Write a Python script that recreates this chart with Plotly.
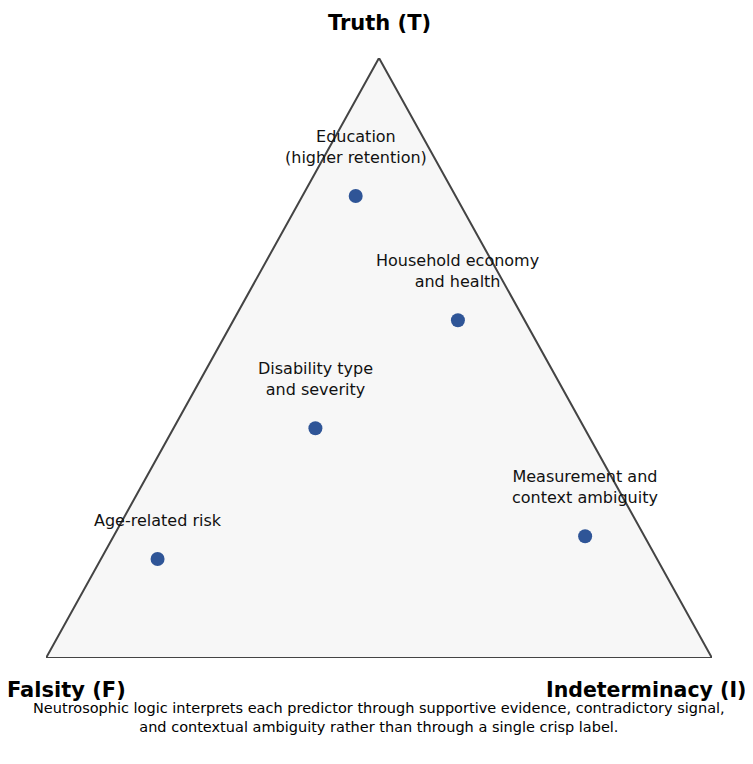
import plotly.graph_objects as go

# Ternary data: (Truth, Indeterminacy, Falsity)
labels = ["Education<br>(higher retention)", "Household economy<br>and health",
          "Disability type<br>and severity", "Measurement and<br>context ambiguity",
          "Age-related risk"]
truth = [0.77, 0.563, 0.383, 0.203, 0.165]
indet = [0.08, 0.337, 0.213, 0.708, 0.085]
falsity = [0.15, 0.10, 0.404, 0.089, 0.75]

axis_titles = ["Truth (T)", "Falsity (F)", "Indeterminacy (I)"]
caption = ("Neutrosophic logic interprets each predictor through supportive evidence, contradictory signal,"
           "<br>and contextual ambiguity rather than through a single crisp label.")

# barycentric -> cartesian (F vertex at (0,0), I vertex at (1,0), T vertex at (0.5,1))
xs = [i + t / 2 for t, i in zip(truth, indet)]
ys = list(truth)

FONT = "DejaVu Sans"
fig = go.Figure()
fig.add_trace(go.Scatter(
    x=xs, y=ys, mode="markers",
    marker=dict(size=14, color="#2F5597"),
    hoverinfo="skip", showlegend=False,
    cliponaxis=False,
))

annotations = []
for x, y, lab in zip(xs, ys, labels):
    annotations.append(dict(x=x, y=y, xref="x", yref="y", text=lab, showarrow=False,
                            yanchor="bottom", yshift=27,
                            font=dict(family=FONT, size=16, color="#111")))
annotations += [
    dict(x=0.5, y=1, xref="x", yref="y", text="<b>" + axis_titles[0] + "</b>", showarrow=False,
         yanchor="bottom", yshift=21, font=dict(family=FONT, size=21, color="#000")),
    dict(x=0, y=0, xref="x", yref="y", text="<b>" + axis_titles[1] + "</b>", showarrow=False,
         yanchor="top", yshift=-18, xshift=20, font=dict(family=FONT, size=21, color="#000")),
    dict(x=1, y=0, xref="x", yref="y", text="<b>" + axis_titles[2] + "</b>", showarrow=False,
         yanchor="top", yshift=-18, xshift=-66, xanchor="center",
         font=dict(family=FONT, size=20.5, color="#000")),
    dict(x=0.5, y=0, xref="x", yref="y", text=caption, showarrow=False,
         yanchor="top", yshift=-40, font=dict(family=FONT, size=14.5, color="#000")),
]

fig.update_layout(
    width=753, height=764,
    margin=dict(l=38, r=49, t=50, b=114),
    paper_bgcolor="white", plot_bgcolor="white",
    xaxis=dict(range=[0, 1], visible=False, fixedrange=True),
    yaxis=dict(range=[0, 1], visible=False, fixedrange=True),
    shapes=[
        dict(type="path", path="M 0 0 L 1 0 L 0.5 1 Z", xref="x", yref="y",
             fillcolor="#F7F7F7", line=dict(width=0), layer="below"),
        dict(type="path", path="M 0 0 L 1 0 L 0.5 1 Z", xref="x", yref="y",
             line=dict(color="#444", width=2), layer="above"),
    ],
    annotations=annotations,
    font=dict(family=FONT),
)
fig.write_html("out.html")
